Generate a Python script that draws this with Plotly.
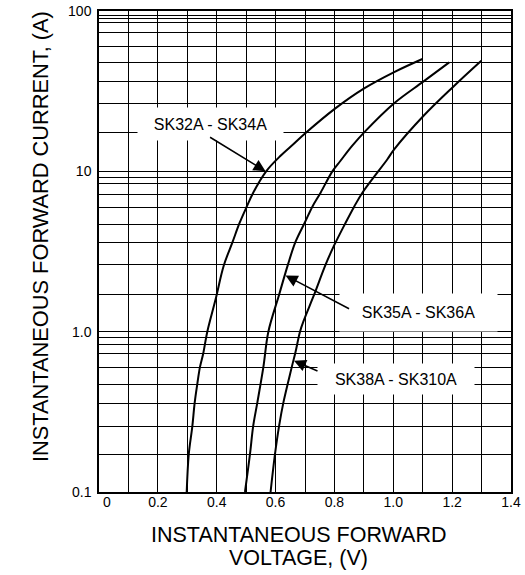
import math
import plotly.graph_objects as go

# ---- data (V in volts, I in amps) ----
v_sk32_34 = [0.298, 0.305, 0.317, 0.325, 0.334, 0.343, 0.354, 0.368, 0.396, 0.424,
             0.454, 0.478, 0.502, 0.524, 0.568, 0.617, 0.663, 0.700, 0.802, 0.901, 1.003, 1.099]
i_sk32_34 = [0.1, 0.172, 0.256, 0.358, 0.471, 0.601, 0.729, 1.0, 1.585, 2.585,
             3.63, 4.78, 6.02, 7.36, 10.0, 12.5, 14.9, 17.2, 24.6, 32.9, 41.6, 50.2]

v_sk35_36 = [0.496, 0.513, 0.524, 0.538, 0.5585, 0.5755, 0.612, 0.642, 0.668, 0.699,
             0.725, 0.753, 0.793, 0.820, 0.860, 0.901, 1.003, 1.103, 1.19]
i_sk35_36 = [0.1, 0.172, 0.2585, 0.361, 0.601, 1.0, 1.70, 2.62, 3.64, 4.78,
             6.02, 7.36, 10.0, 11.6, 14.4, 17.5, 26.6, 36.4, 47.8]

v_sk38_310 = [0.583, 0.598, 0.612, 0.6265, 0.655, 0.668, 0.683, 0.697, 0.731, 0.770,
              0.799, 0.838, 0.867, 0.895, 0.980, 1.003, 1.103, 1.203, 1.299]
i_sk38_310 = [0.1, 0.172, 0.2585, 0.361, 0.601, 0.75, 1.0, 1.19, 1.70, 2.62,
              3.45, 4.78, 6.02, 7.36, 11.9, 13.7, 22.2, 33.6, 48.9]

series_names = ["SK32A - SK34A", "SK35A - SK36A", "SK38A - SK310A"]

x_tick_vals = [0.0, 0.1, 0.2, 0.3, 0.4, 0.5, 0.6, 0.7, 0.8, 0.9, 1.0, 1.1, 1.2, 1.3, 1.4]
x_tick_text = ["\u2007\u20070", "", "0.2", "", "0.4", "", "0.6", "", "0.8", "", "1.0", "", "1.2", "", "1.4"]

y_major_vals = [0.1, 1.0, 10.0, 100.0]
y_major_text = ["0.1", "1.0", "10", "100"]
y_grid_vals = [0.172, 0.256, 0.358, 0.471, 0.601, 0.729, 0.829, 0.92,
               1.71, 2.61, 3.62, 4.69, 5.96, 7.22, 8.34, 9.17,
               17.4, 26.4, 36.2, 47.6, 60.4, 73.3, 84.6, 89.7, 94.4]

x_title_line1 = "INSTANTANEOUS FORWARD"
x_title_line2 = "VOLTAGE, (V)"
y_title = "INSTANTANEOUS FORWARD CURRENT, (A)"

FONT = "Liberation Sans, Arial, sans-serif"

W, H = 525, 575
L, R, T, B = 99, 14, 11, 83
pw, ph = W - L - R, H - T - B


def px_to_paper(xp, yp):
    return (xp - L) / pw, (H - yp - B) / ph


fig = go.Figure()
for v, i, n in [(v_sk32_34, i_sk32_34, series_names[0]),
                (v_sk35_36, i_sk35_36, series_names[1]),
                (v_sk38_310, i_sk38_310, series_names[2])]:
    fig.add_trace(go.Scatter(x=v, y=i, mode="lines", name=n, showlegend=False,
                             line=dict(color="black", width=2, shape="spline", smoothing=1.0)))

annotations = []
# label boxes (white background hides grid)
label_boxes = [
    (series_names[0], 0.3776, 19.7, 143, 30),
    (series_names[1], 1.085, 1.324, 155, 35),
    (series_names[2], 1.0085, 0.508, 154, 28),
]
for txt, x, y, w, h in label_boxes:
    annotations.append(dict(x=x, y=math.log10(y), xref="x", yref="y", text=txt,
                            showarrow=False, bgcolor="white", width=w, height=h,
                            font=dict(family=FONT, size=16, color="black")))
# arrows
arrows = [
    (0.566, 10.0, -57, -35),
    (0.634, 2.24, 65, 34),
    (0.6626, 0.659, 25, 11),
]
for x, y, ax, ay in arrows:
    annotations.append(dict(x=x, y=math.log10(y), xref="x", yref="y", text="",
                            showarrow=True, ax=ax, ay=ay, arrowhead=2, arrowsize=1.6,
                            arrowwidth=1.5, arrowcolor="black"))
# axis titles
for txt, xp, yp, ang, sz in [(x_title_line1, 298, 535, 0, 21.5),
                             (x_title_line2, 298, 558, 0, 21.5),
                             (y_title, 40, 237, -90, 21.8)]:
    xx, yy = px_to_paper(xp, yp)
    annotations.append(dict(x=xx, y=yy, xref="paper", yref="paper", text=txt,
                            textangle=ang, showarrow=False,
                            xanchor="center", yanchor="middle",
                            font=dict(family=FONT, size=sz, color="black")))

fig.update_layout(
    width=W, height=H,
    margin=dict(l=L, r=R, t=T, b=B, autoexpand=False),
    paper_bgcolor="white", plot_bgcolor="white",
    font=dict(family=FONT, color="black"),
    annotations=annotations,
    xaxis=dict(range=[0, 1.4], tickmode="array", tickvals=x_tick_vals, ticktext=x_tick_text,
               showgrid=True, gridcolor="black", gridwidth=1.3, zeroline=False,
               showline=True, linecolor="black", linewidth=1.5, mirror=True, automargin=False,
               ticks="", tickfont=dict(size=14, family=FONT), ticklabelstandoff=-4),
    yaxis=dict(type="log", range=[-1, 2], tickmode="array",
               tickvals=y_major_vals + y_grid_vals,
               ticktext=y_major_text + [""] * len(y_grid_vals),
               showgrid=True, gridcolor="black", gridwidth=1.3, zeroline=False,
               showline=True, linecolor="black", linewidth=1.5, mirror=True, automargin=False,
               ticks="", tickfont=dict(size=14, family=FONT), ticklabelstandoff=3),
)

fig.write_html("out.html", config={"displayModeBar": False},
               post_script="document.body.style.margin='0';")
